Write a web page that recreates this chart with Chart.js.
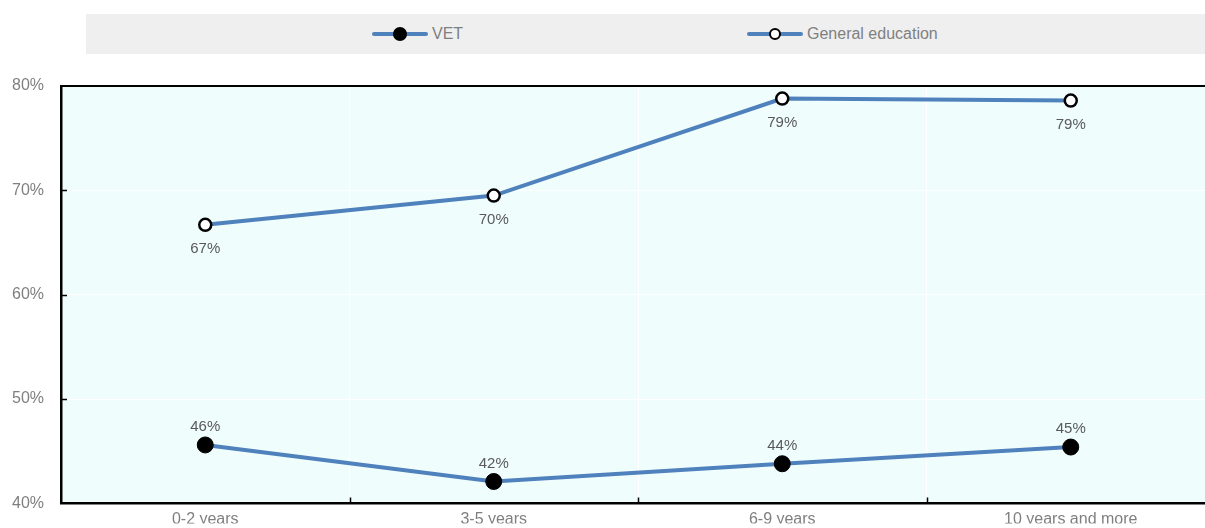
<!DOCTYPE html>
<html>
<head>
<meta charset="utf-8">
<script src="https://cdn.jsdelivr.net/npm/chart.js@4.4.0/dist/chart.umd.min.js"></script>
<style>
    html {
        margin: 0;
        padding: 0;
        width: 1205px;
        height: 528px;
        overflow: hidden;
        background: #ffffff;
    }
    body {
        margin: 0;
        padding: 0;
        position: relative;
        width: 1224px;
        height: 530px;
        font-family: "Liberation Sans Narrow", "Arial Narrow", "Liberation Sans", Arial, sans-serif;
    }
    .chart-wrap {
        position: absolute;
        left: 0;
        top: 0;
        width: 1224px;
        height: 530px;
    }
    #tenureChart {
        width: 1224px;
        height: 530px;
    }
    .legend-bar {
        position: absolute;
        left: 86px;
        top: 14px;
        width: 1119px;
        height: 40px;
        background: #efefef;
    }
    .legend-item {
        position: absolute;
        top: 0;
        height: 40px;
    }
    .legend-line {
        position: absolute;
        left: 0;
        top: 18px;
        width: 56px;
        height: 4px;
        border-radius: 2px;
        background: #4f81bd;
    }
    .legend-dot {
        position: absolute;
        left: 21px;
        top: 13px;
        width: 14px;
        height: 14px;
        border-radius: 50%;
        box-sizing: border-box;
    }
    .legend-dot.filled {
        background: #000000;
    }
    .legend-dot.hollow {
        left: 22px;
        top: 14px;
        width: 12px;
        height: 12px;
        background: #ffffff;
        border: 2.5px solid #000000;
    }
    .legend-text {
        position: absolute;
        left: 60px;
        top: 9px;
        font-size: 16px;
        line-height: 22px;
        color: #7f7f7f;
        white-space: nowrap;
    }
</style>
</head>
<body>
<div class="chart-wrap"><canvas id="tenureChart" width="1224" height="530"></canvas></div>
<div class="legend-bar">
    <div class="legend-item" style="left: 286px;">
        <div class="legend-line"></div>
        <div class="legend-dot filled"></div>
        <div class="legend-text">VET</div>
    </div>
    <div class="legend-item" style="left: 661px;">
        <div class="legend-line"></div>
        <div class="legend-dot hollow"></div>
        <div class="legend-text">General education</div>
    </div>
</div>
<script>
const categories = ["0-2 years", "3-5 years", "6-9 years", "10 years and more"];
const vetValues = [45.6, 42.1, 43.8, 45.4];
const generalValues = [66.7, 69.5, 78.8, 78.6];
const yTicks = [40, 50, 60, 70, 80];

const fontFamily = '"Liberation Sans Narrow", "Arial Narrow", "Liberation Sans", Arial, sans-serif';
const lineBlue = "#4f81bd";
const tickGrey = "#7f7f7f";

// plot background, top border and the short inside tick marks
const plotFrame = {
    id: "plotFrame",
    beforeDraw(chart) {
        const { ctx, chartArea } = chart;
        ctx.save();
        ctx.fillStyle = "#f0fdfd";
        ctx.fillRect(chartArea.left, chartArea.top, chartArea.right - chartArea.left, chartArea.bottom - chartArea.top);
        ctx.restore();
    },
    afterDatasetsDraw(chart) {
        const { ctx, chartArea, scales } = chart;
        ctx.save();
        ctx.strokeStyle = "#000000";
        ctx.lineWidth = 2;
        ctx.beginPath();
        ctx.moveTo(chartArea.left - 1, chartArea.top);
        ctx.lineTo(chartArea.right, chartArea.top);
        ctx.stroke();

        ctx.lineWidth = 1.5;
        ctx.beginPath();
        for (let i = 1; i < categories.length; i++) {
            const x = Math.round((scales.x.getPixelForValue(i - 1) + scales.x.getPixelForValue(i)) / 2) + 0.5;
            ctx.moveTo(x, chartArea.bottom);
            ctx.lineTo(x, chartArea.bottom - 6);
        }
        yTicks.slice(1, -1).forEach(function (v) {
            const y = Math.round(scales.y.getPixelForValue(v)) + 0.5;
            ctx.moveTo(chartArea.left, y);
            ctx.lineTo(chartArea.left + 6, y);
        });
        ctx.stroke();
        ctx.restore();
    },
};

// value labels: VET above its points, general education below
const valueLabels = {
    id: "valueLabels",
    afterDatasetsDraw(chart) {
        const { ctx } = chart;
        ctx.save();
        ctx.font = "15px " + fontFamily;
        ctx.fillStyle = "#595959";
        ctx.textAlign = "center";
        ctx.textBaseline = "middle";
        chart.data.datasets.forEach(function (ds, di) {
            const meta = chart.getDatasetMeta(di);
            meta.data.forEach(function (pt, i) {
                const label = Math.round(ds.data[i]) + "%";
                const dy = di === 0 ? -18 : 24;
                ctx.fillText(label, pt.x, pt.y + dy);
            });
        });
        ctx.restore();
    },
};

new Chart(document.getElementById("tenureChart").getContext("2d"), {
    type: "line",
    data: {
        labels: categories,
        datasets: [
            {
                label: "VET",
                data: vetValues,
                borderColor: lineBlue,
                borderWidth: 4,
                pointRadius: 8,
                pointBackgroundColor: "#000000",
                pointBorderColor: "#000000",
                pointBorderWidth: 1,
                tension: 0,
            },
            {
                label: "General education",
                data: generalValues,
                borderColor: lineBlue,
                borderWidth: 4,
                pointRadius: 6,
                pointBackgroundColor: "#ffffff",
                pointBorderColor: "#000000",
                pointBorderWidth: 2.5,
                tension: 0,
            },
        ],
    },
    options: {
        responsive: false,
        animation: false,
        layout: {
            padding: { top: 86, right: 0, bottom: 0, left: 0 },
        },
        scales: {
            x: {
                offset: true,
                grid: {
                    offset: true,
                    color: "#ffffff",
                    lineWidth: 1,
                    drawTicks: false,
                },
                border: { color: "#000000", width: 2.5 },
                ticks: {
                    color: tickGrey,
                    font: { family: fontFamily, size: 16 },
                    padding: 7,
                    maxRotation: 0,
                },
                afterFit(scale) {
                    scale.height = 20;
                },
            },
            y: {
                min: 40,
                max: 80,
                afterBuildTicks(scale) {
                    scale.ticks = yTicks.map(function (v) { return { value: v }; });
                },
                grid: {
                    color: "#ffffff",
                    lineWidth: 1,
                    drawTicks: false,
                },
                border: { color: "#000000", width: 2.5 },
                ticks: {
                    color: tickGrey,
                    font: { family: fontFamily, size: 16 },
                    padding: 17,
                    callback: function (value) {
                        return value + "%";
                    },
                },
                afterFit(scale) {
                    scale.width = 61;
                },
            },
        },
        plugins: {
            legend: { display: false },
            tooltip: { enabled: false },
        },
    },
    plugins: [plotFrame, valueLabels],
});
</script>
</body>
</html>
